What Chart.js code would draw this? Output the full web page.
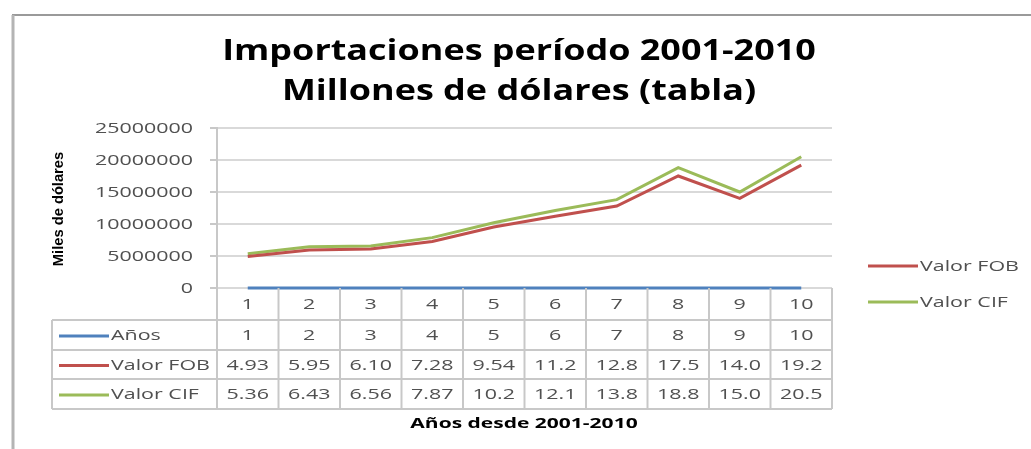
<!DOCTYPE html>
<html lang="es">
<head>
    <meta charset="UTF-8">
    <title>Importaciones período 2001-2010</title>
    <script src="https://cdn.jsdelivr.net/npm/chart.js"></script>
    <style>
        body { margin: 0; background: #ffffff; }
        canvas { display: block; }
    </style>
</head>
<body>
    <canvas id="chart" width="1031" height="449"></canvas>

    <script>
        // data
        const years = ['1', '2', '3', '4', '5', '6', '7', '8', '9', '10'];
        const anios = [1, 2, 3, 4, 5, 6, 7, 8, 9, 10];
        const valorFOB = [4930000, 5950000, 6100000, 7280000, 9540000, 11200000, 12800000, 17500000, 14000000, 19200000];
        const valorCIF = [5360000, 6430000, 6560000, 7870000, 10200000, 12100000, 13800000, 18800000, 15000000, 20500000];
        const yTicks = [0, 5000000, 10000000, 15000000, 20000000, 25000000];
        const titleLines = ['Importaciones período 2001-2010', 'Millones de dólares (tabla)'];
        const yTitle = 'Miles de dólares';
        const xTitle = 'Años desde 2001-2010';

        const gray = '#505050';
        const lineGray = '#c8c8c8';

        // text helper, the reference is stretched sideways
        function drawText(ctx, text, x, y, font, color, align, sx, baseline, rot) {
            ctx.save();
            ctx.translate(x, y);
            if (rot) ctx.rotate(rot);
            ctx.scale(sx, 1);
            ctx.font = font;
            ctx.fillStyle = color;
            ctx.textAlign = align;
            ctx.textBaseline = baseline || 'middle';
            ctx.fillText(text, 0, 0);
            ctx.restore();
        }

        function hLine(ctx, x1, x2, y, color, w) {
            ctx.beginPath();
            ctx.strokeStyle = color;
            ctx.lineWidth = w;
            ctx.moveTo(x1, y);
            ctx.lineTo(x2, y);
            ctx.stroke();
        }

        function vLine(ctx, x, y1, y2, color, w) {
            ctx.beginPath();
            ctx.strokeStyle = color;
            ctx.lineWidth = w;
            ctx.moveTo(x, y1);
            ctx.lineTo(x, y2);
            ctx.stroke();
        }

        const excelDecor = {
            id: 'excelDecor',
            beforeDraw(chart) {
                const ctx = chart.ctx;
                ctx.save();
                ctx.fillStyle = '#ffffff';
                ctx.fillRect(0, 0, chart.width, chart.height);
                // outer frame of the chart object
                hLine(ctx, 12, chart.width, 15, '#9a9a9a', 2);
                vLine(ctx, 13, 15, chart.height, '#b4b4b4', 3);
                ctx.restore();
            },
            afterDraw(chart) {
                const ctx = chart.ctx;
                const area = chart.chartArea;
                const xs = chart.scales.x;
                const ys = chart.scales.y;
                const half = (xs.getPixelForValue(1) - xs.getPixelForValue(0)) / 2;
                const smallFont = '15px "Open Sans"';
                const sx = 1.43;

                ctx.save();

                // title
                drawText(ctx, titleLines[0], 519, 60, 'bold 29px "Open Sans"', '#000000', 'center', 1.24, 'alphabetic');
                drawText(ctx, titleLines[1], 519, 100, 'bold 29px "Open Sans"', '#000000', 'center', 1.24, 'alphabetic');

                // y tick labels
                ys.ticks.forEach(t => {
                    drawText(ctx, String(t.value), 193, ys.getPixelForValue(t.value) + 1, smallFont, gray, 'right', sx);
                });

                // y axis title
                drawText(ctx, yTitle, 59, (area.top + area.bottom) / 2 + 1, 'bold 15px "Liberation Sans"', '#000000', 'center', 0.98, 'middle', -Math.PI / 2);

                // data table under the axis
                const rows = [area.bottom, area.bottom + 32, area.bottom + 62, area.bottom + 91, area.bottom + 121];
                const tableLeft = 52;
                const keyX1 = 59, keyX2 = 109, labelX = 111;

                // category row
                years.forEach((c, i) => {
                    drawText(ctx, c, xs.getPixelForValue(i), (rows[0] + rows[1]) / 2 + 1, smallFont, gray, 'center', sx);
                });

                chart.data.datasets.forEach((ds, r) => {
                    const yMid = (rows[r + 1] + rows[r + 2]) / 2 + 1;
                    hLine(ctx, keyX1, keyX2, yMid, ds.borderColor, 3);
                    drawText(ctx, ds.label, labelX, yMid, smallFont, gray, 'left', sx);
                    ds.data.forEach((v, i) => {
                        const txt = r === 0 ? String(v) : (v / 1000000).toPrecision(3);
                        drawText(ctx, txt, xs.getPixelForValue(i), yMid, smallFont, gray, 'center', sx);
                    });
                });

                // table grid
                for (let k = 1; k < rows.length; k++) {
                    hLine(ctx, tableLeft, area.right, rows[k], lineGray, 2);
                }
                vLine(ctx, tableLeft, rows[1], rows[4], lineGray, 2);
                for (let i = 0; i < years.length; i++) {
                    vLine(ctx, xs.getPixelForValue(i) + half, rows[0], rows[4], lineGray, 2);
                }
                vLine(ctx, area.left, area.bottom, rows[4], lineGray, 2);

                // x axis title
                drawText(ctx, xTitle, 524, 424, 'bold 15px "Open Sans"', '#000000', 'center', 1.4);

                // legend at the right (only FOB and CIF)
                [1, 2].forEach((d, j) => {
                    const ds = chart.data.datasets[d];
                    const y = 266 + j * 36;
                    hLine(ctx, 868, 918, y, ds.borderColor, 3);
                    drawText(ctx, ds.label, 920, y + 1, smallFont, gray, 'left', sx);
                });

                ctx.restore();
            }
        };

        const ctx = document.getElementById('chart').getContext('2d');
        new Chart(ctx, {
            type: 'line',
            data: {
                labels: years,
                datasets: [
                    { label: 'Años', data: anios, borderColor: '#4f81bd', borderWidth: 3, pointRadius: 0, clip: false },
                    { label: 'Valor FOB', data: valorFOB, borderColor: '#c0504d', borderWidth: 3, pointRadius: 0, clip: false },
                    { label: 'Valor CIF', data: valorCIF, borderColor: '#9bbb59', borderWidth: 3, pointRadius: 0, clip: false }
                ]
            },
            options: {
                responsive: false,
                animation: false,
                devicePixelRatio: 1,
                layout: { padding: { left: 210, right: 199, top: 128, bottom: 161 } },
                plugins: {
                    legend: { display: false },
                    title: { display: false },
                    tooltip: { enabled: false }
                },
                scales: {
                    x: {
                        offset: true,
                        grid: { display: false },
                        border: { display: false },
                        ticks: { display: false },
                        afterFit: s => { s.height = 0; }
                    },
                    y: {
                        min: yTicks[0],
                        max: yTicks[yTicks.length - 1],
                        afterBuildTicks: s => { s.ticks = yTicks.map(v => ({ value: v })); },
                        ticks: { display: false },
                        grid: { color: '#d9d9d9', lineWidth: 2, tickLength: 7, tickColor: '#c8c8c8' },
                        border: { display: true, color: '#c8c8c8', width: 2 },
                        afterFit: s => { s.width = 7; }
                    }
                }
            },
            plugins: [excelDecor]
        });
    </script>
</body>
</html>
